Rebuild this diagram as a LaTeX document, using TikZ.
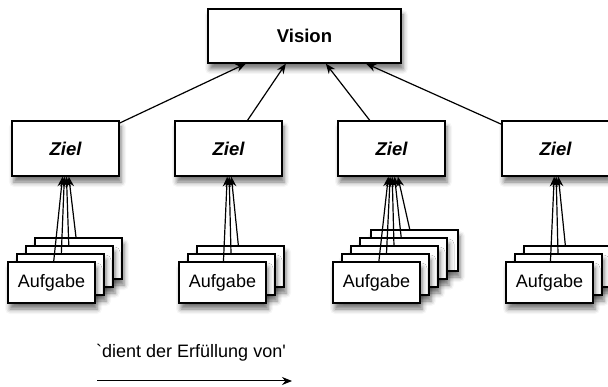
\documentclass[tikz,border=0pt]{standalone}
\usepackage{fontspec}
\setmainfont{Liberation Sans}[Ligatures=TeXOff]
\usetikzlibrary{arrows.meta,shadows.blur}
\begin{document}
\begin{tikzpicture}[x=1pt,y=-1pt,
  box/.style={draw=black, line width=1.3pt, fill=white, inner sep=0pt,
    blur shadow={shadow xshift=2pt, shadow yshift=-6pt, shadow blur radius=5pt, shadow opacity=55},
    font=\fontsize{18}{20}\selectfont},
  visionbox/.style={box, minimum width=193pt, minimum height=54pt, font=\fontsize{18.5}{20}\selectfont\bfseries},
  zielbox/.style={box, minimum width=107pt, minimum height=55pt, font=\fontsize{18.5}{20}\selectfont\bfseries\itshape},
  taskbox/.style={box, minimum width=87pt, minimum height=41pt},
  conn/.style={-{Stealth[length=10pt,width=8pt]}, line width=1.2pt},
  legend/.style={font=\fontsize{18}{20}\selectfont, inner sep=0pt}
]
\useasboundingbox (0,0) rectangle (608,387);

% Vision
\node[visionbox] (vision) at (304.5,36) {Vision};

% Ziele
\node[zielbox] (z1) at (65.5,148.5) {Ziel};
\node[zielbox] (z2) at (228.5,148.5) {Ziel};
\node[zielbox] (z3) at (391.5,148.5) {Ziel};
\node[zielbox] (z4) at (555.5,148.5) {Ziel};

\foreach \z in {z1,z2,z3,z4} \draw[conn] (\z) -- (vision);

% Gruppe 1
\node[taskbox] (a1d) at (78.5,258.5) {};
\node[taskbox] (a1c) at (69.5,266.5) {};
\node[taskbox] (a1b) at (60.5,274.5) {};
\node[taskbox] (a1a) at (51.5,282.5) {Aufgabe};
\foreach \t in {a1a,a1b,a1c,a1d} \draw[conn] (\t) -- (z1);

% Gruppe 2
\node[taskbox] (a2c) at (240.5,266.5) {};
\node[taskbox] (a2b) at (231.5,274.5) {};
\node[taskbox] (a2a) at (222.5,282.5) {Aufgabe};
\foreach \t in {a2a,a2b,a2c} \draw[conn] (\t) -- (z2);

% Gruppe 3
\node[taskbox] (a3e) at (414.5,250.5) {};
\node[taskbox] (a3d) at (403.5,258.5) {};
\node[taskbox] (a3c) at (394.5,266.5) {};
\node[taskbox] (a3b) at (385.5,274.5) {};
\node[taskbox] (a3a) at (376.5,282.5) {Aufgabe};
\foreach \t in {a3a,a3b,a3c,a3d,a3e} \draw[conn] (\t) -- (z3);

% Gruppe 4
\node[taskbox] (a4c) at (567.5,266.5) {};
\node[taskbox] (a4b) at (558.5,274.5) {};
\node[taskbox] (a4a) at (549.5,282.5) {Aufgabe};
\foreach \t in {a4a,a4b,a4c} \draw[conn] (\t) -- (z4);

% Legende
\node[legend, anchor=base west] (legtext) at (96,358) {`dient der Erfüllung von'};
\coordinate (ls) at (97,381);
\coordinate (le) at (292,381);
\draw[conn, line width=1pt] (ls) -- (le);
\end{tikzpicture}
\end{document}
